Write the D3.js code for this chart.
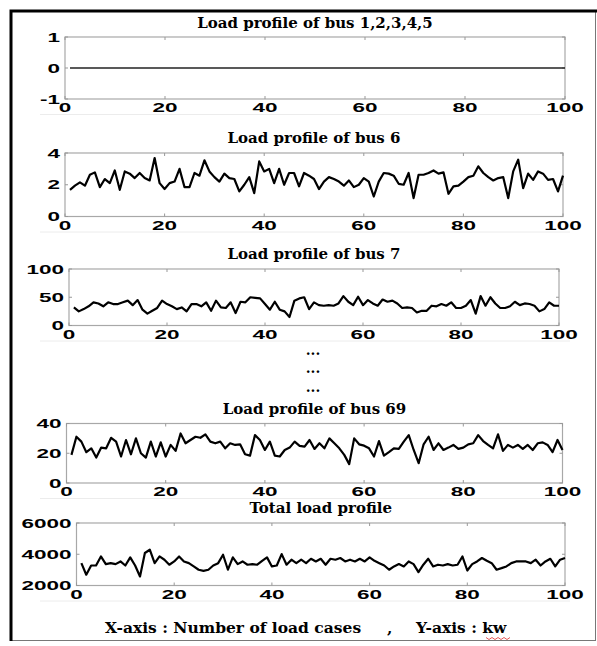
<!DOCTYPE html>
<html>
<head>
<meta charset="utf-8">
<script src="https://cdn.jsdelivr.net/npm/d3@7"></script>
<style>
  body { margin: 0; background: #fff; }
  svg { display: block; }
</style>
</head>
<body>
<div id="chart"></div>
<script>
// load cases on the x axis
var loadCases = d3.range(1, 101);
var xTicks = [0, 20, 40, 60, 80, 100];

// bus 1..5 carry no load
var bus1to5 = [
  0,0,0,0,0,0,0,0,0,0, 0,0,0,0,0,0,0,0,0,0,
  0,0,0,0,0,0,0,0,0,0, 0,0,0,0,0,0,0,0,0,0,
  0,0,0,0,0,0,0,0,0,0, 0,0,0,0,0,0,0,0,0,0,
  0,0,0,0,0,0,0,0,0,0, 0,0,0,0,0,0,0,0,0,0,
  0,0,0,0,0,0,0,0,0,0, 0,0,0,0,0,0,0,0,0,0
];

var bus6 = [
  1.68,1.94,2.15,1.94,2.63,2.78,1.85,2.36,2.1,2.9,
  1.68,2.84,2.7,2.42,2.74,2.42,2.27,3.68,2.1,1.73,
  2.1,2.2,3.0,1.85,1.85,2.74,2.57,3.54,2.84,2.48,
  2.2,2.7,2.42,2.36,1.58,2.0,2.48,1.47,3.47,2.84,
  3.0,2.1,3.0,2.0,2.74,2.74,1.9,2.74,2.57,2.36,
  1.73,2.2,2.48,2.36,2.2,1.94,2.27,1.85,2.0,2.42,
  2.2,1.26,2.2,2.74,2.7,2.57,2.06,2.0,2.74,1.16,
  2.63,2.63,2.74,2.9,2.7,2.78,1.43,1.9,1.94,2.2,
  2.48,2.57,3.16,2.74,2.48,2.27,2.42,2.48,1.16,2.84,
  3.58,1.79,2.7,2.31,2.84,2.7,2.31,2.36,1.58,2.57
];

var bus7 = [
  32,25,29,34,41,39,34,41,38,38,
  41,44,36,45,28,21,26,31,44,38,
  34,29,32,25,38,38,34,41,26,44,
  32,31,41,22,42,41,50,49,48,38,
  28,42,28,25,15,44,48,50,29,41,
  36,35,36,35,39,52,42,36,51,36,
  45,39,35,46,42,44,39,31,32,31,
  23,26,26,35,34,38,35,41,31,31,
  35,45,21,52,35,50,39,31,31,34,
  42,36,39,38,35,25,29,41,35,35
];

var bus69 = [
  18.9,31.1,27.8,20.7,23.3,17.1,23.8,23.3,30.4,27.8,
  17.8,28.9,19.3,30.0,20.0,17.1,27.8,17.8,27.3,17.8,
  25.6,21.6,33.3,26.7,28.9,31.1,30.4,32.7,27.8,26.7,
  27.8,23.3,26.7,25.6,26.0,19.3,18.4,32.2,28.9,22.2,
  27.8,18.4,17.8,22.2,23.8,27.8,25.0,24.4,28.9,22.9,
  26.7,23.3,30.0,26.7,23.3,18.9,12.7,30.0,26.0,25.1,
  23.3,17.8,28.2,18.4,20.7,23.3,22.9,27.8,32.2,22.2,
  13.3,26.0,31.1,22.2,26.7,22.2,23.8,25.6,22.9,23.8,
  26.0,26.7,32.2,28.2,25.6,23.3,32.7,21.6,25.6,23.8,
  25.6,22.9,25.6,22.2,26.7,27.3,25.6,20.7,28.9,22.2
];

var totalLoad = [
  3430,2690,3280,3280,3860,3370,3430,3370,3540,3280,
  3800,3280,2580,4080,4290,3430,3860,3650,3330,3540,
  3860,3540,3430,3220,3010,2940,3010,3280,3430,3970,
  3010,3800,3370,3540,3330,3370,3330,3580,3800,3220,
  3280,4010,3330,3650,3430,3650,3430,3710,3540,3710,
  3330,3710,3650,3760,3540,3650,3540,3710,3540,3800,
  3580,3430,3280,3010,3220,3370,3220,3540,3370,2860,
  3330,3710,3220,3330,3280,3370,3280,3330,3860,2960,
  3370,3540,3760,3580,3430,3010,3110,3220,3430,3540,
  3540,3540,3430,3650,3280,3540,3710,3220,3650,3760
];

var titles = [
  'Load profile of bus 1,2,3,4,5',
  'Load profile of bus 6',
  'Load profile of bus 7',
  'Load profile of bus 69',
  'Total load profile'
];
var yTicks = [[-1, 0, 1], [0, 2, 4], [0, 50, 100], [0, 20, 40], [2000, 4000, 6000]];
var series = [bus1to5, bus6, bus7, bus69, totalLoad];

var width = 597, height = 646;

var svg = d3.select('#chart').append('svg')
  .attr('width', width)
  .attr('height', height);

// frame around the whole figure
svg.append('rect')
  .attr('x', 10.5).attr('y', 11.5)
  .attr('width', 585).attr('height', 629)
  .attr('fill', 'none')
  .attr('stroke', '#777')
  .attr('stroke-width', 1);
svg.append('path')
  .attr('d', 'M11,641 L11,11 L597,11')
  .attr('fill', 'none')
  .attr('stroke', '#000')
  .attr('stroke-width', 3);

// plot boxes [left, right, top, bottom, titleY]
var boxes = [
  [65, 565, 37, 99, 22],
  [65, 563, 153, 216.5, 137],
  [69, 559, 269, 325.5, 253],
  [66.5, 562.5, 423.5, 483, 408],
  [76.5, 565, 523, 585.5, 507.5]
];

var serif = '"DejaVu Serif", "Liberation Serif", serif';
var sans = '"Liberation Sans", Arial, sans-serif';

function drawPanel(i) {
  var b = boxes[i];
  var yt = yTicks[i];
  var x = d3.scaleLinear().domain([0, 100]).range([b[0], b[1]]);
  var y = d3.scaleLinear().domain([yt[0], yt[yt.length - 1]]).range([b[3], b[2]]);
  var g = svg.append('g');

  // faint figure edge under the axis labels
  g.append('line')
    .attr('x1', 40).attr('x2', 570)
    .attr('y1', b[3] + 15.5).attr('y2', b[3] + 15.5)
    .attr('stroke', '#ececec');

  g.append('rect')
    .attr('x', b[0]).attr('y', b[2])
    .attr('width', b[1] - b[0]).attr('height', b[3] - b[2])
    .attr('fill', '#fff')
    .attr('stroke', '#a8a8a8')
    .attr('stroke-width', 1.2);

  // inward ticks on all sides
  xTicks.forEach(function(t) {
    g.append('line').attr('x1', x(t)).attr('x2', x(t))
      .attr('y1', b[2]).attr('y2', b[2] + 3).attr('stroke', '#999');
    g.append('line').attr('x1', x(t)).attr('x2', x(t))
      .attr('y1', b[3]).attr('y2', b[3] - 3).attr('stroke', '#999');
  });
  yt.forEach(function(t) {
    g.append('line').attr('x1', b[0]).attr('x2', b[0] + 3)
      .attr('y1', y(t)).attr('y2', y(t)).attr('stroke', '#999');
    g.append('line').attr('x1', b[1]).attr('x2', b[1] - 3)
      .attr('y1', y(t)).attr('y2', y(t)).attr('stroke', '#999');
  });

  g.selectAll('.xl')
    .data(xTicks)
    .enter()
    .append('text')
    .attr('transform', function(d) {
      return 'translate(' + x(d) + ',' + (b[3] + 13) + ') scale(1.8,1)';
    })
    .attr('text-anchor', 'middle')
    .style('font-family', sans)
    .style('font-weight', 'bold')
    .style('font-size', '12.5px')
    .text(function(d) { return d; });

  g.selectAll('.yl')
    .data(yt)
    .enter()
    .append('text')
    .attr('transform', function(d) {
      return 'translate(' + (b[0] - 5) + ',' + (y(d) + 4.5) + ') scale(1.8,1)';
    })
    .attr('text-anchor', 'end')
    .style('font-family', sans)
    .style('font-weight', 'bold')
    .style('font-size', '12.5px')
    .text(function(d) { return d; });

  var line = d3.line()
    .x(function(d, j) { return x(loadCases[j]); })
    .y(function(d) { return y(d); });

  g.append('path')
    .datum(series[i])
    .attr('d', line)
    .attr('fill', 'none')
    .attr('stroke', i === 0 ? '#222' : '#000')
    .attr('stroke-width', i === 0 ? 1.3 : 2.2)
    .attr('stroke-linejoin', 'round');

  g.append('text')
    .attr('x', (b[0] + b[1]) / 2)
    .attr('y', b[4] + 5.5)
    .attr('text-anchor', 'middle')
    .style('font-family', serif)
    .style('font-weight', 'bold')
    .style('font-size', '15px')
    .text(titles[i]);
}

for (var i = 0; i < series.length; i++) {
  drawPanel(i);
}

// vertical ellipsis between bus 7 and bus 69
[352, 370, 389].forEach(function(yy) {
  svg.append('text')
    .attr('x', 313).attr('y', yy + 3)
    .attr('text-anchor', 'middle')
    .style('font-family', serif)
    .style('font-weight', 'bold')
    .style('font-size', '14px')
    .text('...');
});

// axis note at the bottom
var foot = svg.append('g')
  .style('font-family', serif)
  .style('font-weight', 'bold')
  .style('font-size', '15.5px');
foot.append('text').attr('x', 105).attr('y', 633).text('X-axis : Number of load cases');
foot.append('text').attr('x', 387).attr('y', 633).text(',');
foot.append('text').attr('x', 416).attr('y', 633).text('Y-axis : kw');

// spell-check squiggle under "kw"
var squig = d3.range(0, 9).map(function(k) { return [486 + k * 3, 638 + (k % 2 ? 1.5 : -0.5)]; });
svg.append('path')
  .attr('d', d3.line()(squig))
  .attr('fill', 'none')
  .attr('stroke', '#e03030')
  .attr('stroke-width', 0.8);
</script>
</body>
</html>
